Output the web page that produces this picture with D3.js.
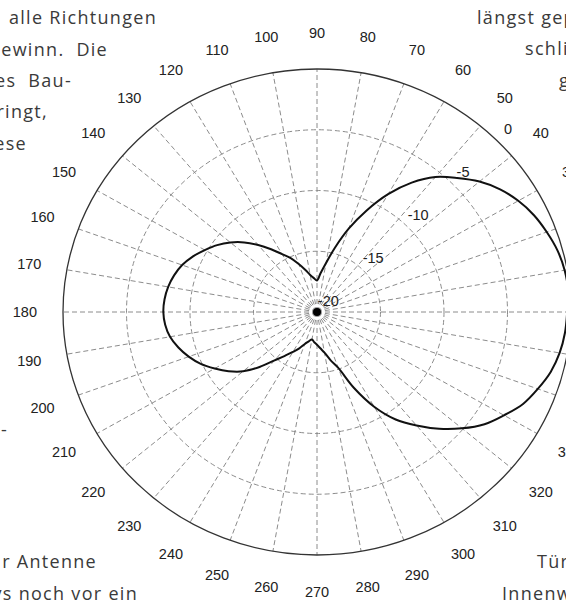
<!DOCTYPE html>
<html>
<head>
<meta charset="utf-8">
<script src="https://cdn.jsdelivr.net/npm/d3@7"></script>
<style>
  body { margin: 0; background: #fff; }
  svg { display: block; }
</style>
</head>
<body>
<script>
// measured pattern: direction in degrees (0 = right, counter-clockwise) and level in dB
const angles = [0, 5, 10, 15, 20, 25, 30, 35, 40, 45, 50, 55, 60, 65, 70, 75, 80, 85,
  90, 95, 100, 105, 110, 115, 120, 125, 130, 135, 140, 145, 150, 155, 160, 165, 170, 175,
  180, 185, 190, 195, 200, 205, 210, 215, 220, 225, 230, 235, 240, 245, 250, 255, 260, 265,
  270, 275, 280, 285, 290, 295, 300, 305, 310, 315, 320, 325, 330, 335, 340, 345, 350, 355];
const gain = [-0.3, -0.15, -0.2, -0.4, -0.75, -1.15, -1.7, -2.4, -3.3, -4.4, -5.5, -7.0, -8.8, -10.8, -12.7, -14.5, -15.9, -16.8,
  -17.4, -17.2, -16.9, -16.4, -15.8, -15.1, -14.5, -13.7, -12.8, -11.9, -11.1, -10.4, -9.8, -9.2, -8.7, -8.35, -8.1, -7.95,
  -7.9, -8.0, -8.25, -8.7, -9.25, -9.9, -10.7, -11.5, -12.4, -13.6, -14.8, -15.6, -16.2, -16.7, -17.2, -17.5, -17.7, -17.5,
  -17.3, -17.0, -16.6, -15.9, -15.1, -13.1, -11.0, -9.2, -7.8, -6.4, -5.1, -3.9, -3.0, -2.1, -1.5, -0.95, -0.6, -0.4];

const angleTicks = [0, 10, 20, 30, 40, 50, 60, 70, 80, 90, 100, 110, 120, 130, 140, 150, 160, 170,
  180, 190, 200, 210, 220, 230, 240, 250, 260, 270, 280, 290, 300, 310, 320, 330, 340, 350];
const ringTicks = [-15, -10, -5];
const ringLabels = [0, -5, -10, -15, -20];

// surrounding page text (cut off by the crop)
const textLeft = ["alle Richtungen", "ewinn.  Die", "es  Bau-", "ringt,", "ese", "-", "r Antenne", "ys noch vor ein"];
const textRight = ["längst gep", "schli", "g", "Tür", "Innenw"];

const width = 566;
const height = 602;
const cx = 317, cy = 312, rx = 254, ry = 243;

const svg = d3.select("body").append("svg")
  .attr("width", width)
  .attr("height", height);

const rX = d3.scaleLinear().domain([-20, 0]).range([0, rx]);
const rY = d3.scaleLinear().domain([-20, 0]).range([0, ry]);
const theta = d3.scaleLinear().domain([0, 360]).range([0, 2 * Math.PI]);

const px = (a, v) => cx + rX(v) * Math.cos(theta(a));
const py = (a, v) => cy - rY(v) * Math.sin(theta(a));

const grid = svg.append("g")
  .attr("fill", "none")
  .attr("stroke", "#8c8c8c")
  .attr("stroke-width", 1)
  .attr("stroke-dasharray", "5,3");

grid.selectAll("ellipse")
  .data(ringTicks)
  .join("ellipse")
  .attr("cx", cx)
  .attr("cy", cy)
  .attr("rx", d => rX(d))
  .attr("ry", d => rY(d));

grid.selectAll("line")
  .data(angleTicks)
  .join("line")
  .attr("x1", cx)
  .attr("y1", cy)
  .attr("x2", d => px(d, 0))
  .attr("y2", d => py(d, 0));

svg.append("ellipse")
  .attr("cx", cx)
  .attr("cy", cy)
  .attr("rx", rX(0))
  .attr("ry", rY(0))
  .attr("fill", "none")
  .attr("stroke", "#333")
  .attr("stroke-width", 1.3);

const line = d3.line()
  .x(d => px(d[0], d[1]))
  .y(d => py(d[0], d[1]))
  .curve(d3.curveCatmullRomClosed.alpha(0.5));

svg.append("path")
  .datum(d3.zip(angles, gain))
  .attr("d", line)
  .attr("fill", "none")
  .attr("stroke", "#111")
  .attr("stroke-width", 2);

svg.append("circle")
  .attr("cx", cx)
  .attr("cy", cy)
  .attr("r", 4)
  .attr("fill", "#000");

const labels = svg.append("g")
  .attr("font-family", "'Liberation Sans', Arial, sans-serif")
  .attr("font-size", 14.5)
  .attr("fill", "#222")
  .attr("text-anchor", "middle");

labels.selectAll("text.ang")
  .data(angleTicks)
  .join("text")
  .attr("class", "ang")
  .attr("x", d => cx + rX(0) * 1.15 * Math.cos(theta(d)))
  .attr("y", d => cy - rY(0) * 1.15 * Math.sin(theta(d)))
  .attr("dy", "0.36em")
  .text(d => d);

labels.selectAll("text.ring")
  .data(ringLabels)
  .join("text")
  .attr("class", "ring")
  .attr("x", d => cx + (rX(d) + 16) * Math.cos(theta(45)))
  .attr("y", d => cy - (rY(d) + 16) * Math.sin(theta(45)))
  .attr("dy", "0.36em")
  .text(d => d);

// page text around the figure
const leftPos = [[157, 24], [108, 56], [72, 87], [48, 118], [27, 150], [8, 436], [97, 568], [138, 600]];
const rightPos = [[477, 24], [525, 55], [559, 87], [537, 568], [502, 600]];

const page = svg.append("g")
  .attr("font-family", "'Open Sans', 'Noto Sans', sans-serif")
  .attr("font-size", 18)
  .attr("letter-spacing", 1.3)
  .attr("fill", "#3a3a3a");

page.selectAll("text.l")
  .data(textLeft)
  .join("text")
  .attr("class", "l")
  .attr("text-anchor", "end")
  .attr("x", (d, i) => leftPos[i][0])
  .attr("y", (d, i) => leftPos[i][1])
  .style("white-space", "pre")
  .text(d => d);

page.selectAll("text.r")
  .data(textRight)
  .join("text")
  .attr("class", "r")
  .attr("x", (d, i) => rightPos[i][0])
  .attr("y", (d, i) => rightPos[i][1])
  .text(d => d);
</script>
</body>
</html>
